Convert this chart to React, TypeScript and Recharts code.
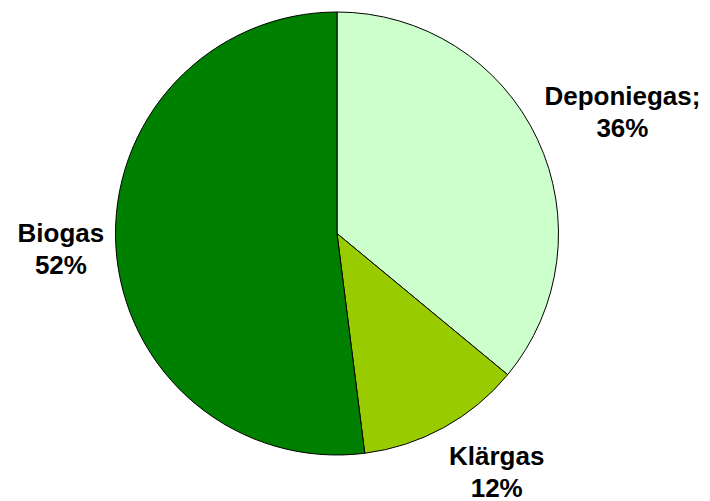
import { PieChart, Pie, Cell } from 'recharts';

const categories = ['Deponiegas;', 'Klärgas', 'Biogas'];
const shares = [36, 12, 52];
const colors = ['#CCFFCC', '#99CC00', '#008000'];

// nudges from the slice's outer edge point to the label's first baseline
const LABEL_NUDGE: Record<string, { dx: number; dy: number }> = {
  'Deponiegas;': { dx: 85, dy: -34 },
  'Klärgas': { dx: 53, dy: 37 },
  'Biogas': { dx: -55, dy: -5 },
};

const data = categories.map((name, i) => ({ name, value: shares[i], color: colors[i] }));

const RADIAN = Math.PI / 180;

function renderLabel(props: any) {
  const { cx, cy, midAngle, outerRadius, name, value } = props;
  const ex = cx + outerRadius * Math.cos(-midAngle * RADIAN);
  const ey = cy + outerRadius * Math.sin(-midAngle * RADIAN);
  const nudge = LABEL_NUDGE[name] || { dx: 0, dy: 0 };
  const x = ex + nudge.dx;
  const y = ey + nudge.dy;
  return (
    <text
      x={x}
      y={y}
      textAnchor="middle"
      fill="#000"
      fontFamily="'Liberation Sans', Arial, sans-serif"
      fontWeight="bold"
      fontSize={26}
    >
      <tspan x={x} y={y}>{name}</tspan>
      <tspan x={x} y={y + 32}>{value}%</tspan>
    </text>
  );
}

export default function App() {
  return (
    <div style={{ position: 'absolute', left: 0, top: 0, width: 710, height: 501, background: '#fff' }}>
      <PieChart width={710} height={501} margin={{ top: 0, right: 0, bottom: 0, left: 0 }}>
        <Pie
          data={data}
          dataKey="value"
          nameKey="name"
          cx={337}
          cy={233.5}
          outerRadius={221.5}
          startAngle={90}
          endAngle={-270}
          stroke="#000"
          strokeWidth={1}
          label={renderLabel}
          labelLine={false}
          isAnimationActive={false}
        >
          {data.map((entry, index) => (
            <Cell key={`cell-${index}`} fill={entry.color} />
          ))}
        </Pie>
      </PieChart>
    </div>
  );
}
